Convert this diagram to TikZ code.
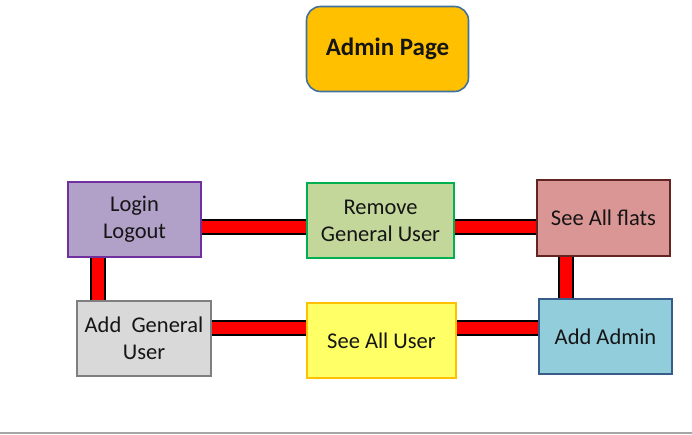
\documentclass[tikz,border=0pt]{standalone}
\usepackage{fontspec}
\setmainfont{Carlito}
\usepackage{xcolor}
\usepackage{tikz}

\definecolor{adminfill}{HTML}{FFC000}
\definecolor{admindraw}{HTML}{41719C}
\definecolor{loginfill}{HTML}{B1A0C7}
\definecolor{logindraw}{HTML}{7030A0}
\definecolor{removefill}{HTML}{C4D79B}
\definecolor{removedraw}{HTML}{00B050}
\definecolor{flatsfill}{HTML}{DA9694}
\definecolor{flatsdraw}{HTML}{632523}
\definecolor{addgenfill}{HTML}{D9D9D9}
\definecolor{addgendraw}{HTML}{7F7F7F}
\definecolor{userfill}{HTML}{FFFF66}
\definecolor{userdraw}{HTML}{FFC000}
\definecolor{addadminfill}{HTML}{92CDDC}
\definecolor{addadmindraw}{HTML}{385D8A}
\definecolor{textdark}{HTML}{151515}

\tikzset{
  pagebox/.style={draw, line width=2pt, align=center, text=textdark,
    minimum width=133pt, minimum height=75pt,
    font=\fontsize{22.5}{27}\selectfont},
  link/.style={line width=1.6pt, draw=black, double=red, double distance=12pt}
}

\begin{document}
\begin{tikzpicture}[x=1pt,y=-1pt]
\useasboundingbox (0,0) rectangle (692,434);
\node[draw=admindraw, fill=adminfill, rounded corners=14pt, line width=1.6pt,
  minimum width=162pt, minimum height=85pt, text=textdark,
  font=\fontsize{25}{30}\selectfont\bfseries] (admin) at (387.5,49) {Admin Page};

\node[pagebox, draw=logindraw, fill=loginfill] (login) at (134.5,219.5) {Login\\Logout};
\node[pagebox, draw=removedraw, fill=removefill, minimum width=147pt] (remove) at (380.5,220.5) {Remove\\General User};
\node[pagebox, draw=flatsdraw, fill=flatsfill, minimum height=76pt] (flats) at (603.5,218) {See All flats};
\node[pagebox, draw=addgendraw, fill=addgenfill, minimum width=134pt] (addgen) at (144,338.5) {Add~~General\\User};
\node[pagebox, draw=userdraw, fill=userfill, minimum width=149pt] (user) at (381.5,340.5) {See All User};
\node[pagebox, draw=addadmindraw, fill=addadminfill] (addadmin) at (605.5,336.5) {Add Admin};

\draw[link] ([yshift=-7.5pt]login.east) -- ([yshift=-7.5pt]login.east -| remove.west);
\draw[link] ([yshift=-7.5pt]login.east -| remove.east) -- ([yshift=-7.5pt]login.east -| flats.west);
\draw[link] ([xshift=-36.5pt]login.south) -- ([xshift=-36.5pt]login.south |- addgen.north);
\draw[link] ([xshift=-37.5pt]flats.south) -- ([xshift=-37.5pt]flats.south |- addadmin.north);
\draw[link] ([yshift=10.5pt]addgen.east) -- ([yshift=10.5pt]addgen.east -| user.west);
\draw[link] ([yshift=10.5pt]addgen.east -| user.east) -- ([yshift=10.5pt]addgen.east -| addadmin.west);

\draw[line width=1.5pt, gray!70] (0,433) -- (692,433);
\end{tikzpicture}
\end{document}
